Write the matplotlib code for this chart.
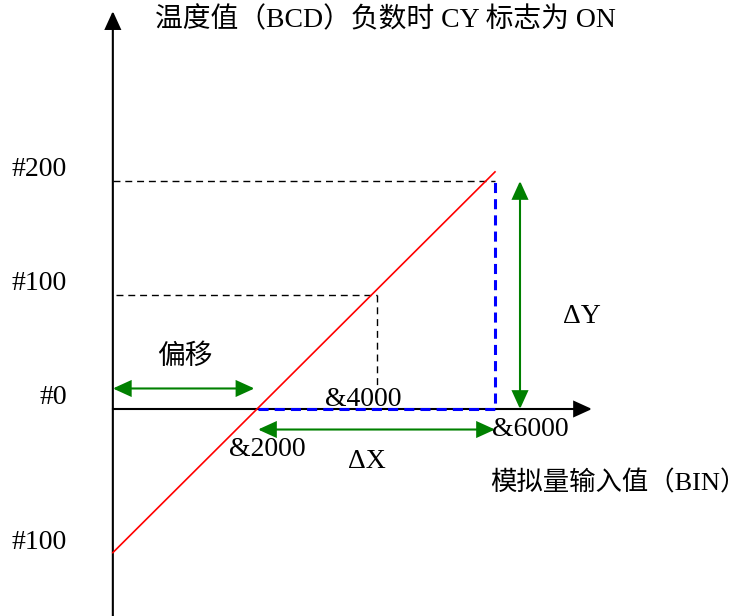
import matplotlib
matplotlib.use('Agg')
import matplotlib.pyplot as plt
from matplotlib.patches import FancyArrowPatch

plt.rcParams['font.family'] = ['Liberation Serif', 'Noto Sans CJK SC']
plt.rcParams['font.size'] = 20

# chart values
x_ticks = [2000, 4000, 6000]
x_labels = ['&2000', '&4000', '&6000']
y_ticks = [0, 100, 200]
y_labels = ['#0', '#100', '#200']
line_x = [-450, 6000]
line_y = [-126, 208]
neg_label = '#100'
title = '温度值（BCD）负数时 CY 标志为 ON'
xlabel = '模拟量输入值（BIN）'
offset_label = '偏移'

# schematic layout (pixels per data unit, pixel of the origin)
W, H, DPI = 749, 616, 100
PX0, PY0 = 139.5, 409
SX, SY = 0.05925, 1.14
X_LEFT = line_x[0]
Y_TOP = 349
X_RIGHT = 7637
GAP = 18

fig = plt.figure(figsize=(W / DPI, H / DPI), dpi=DPI)
ax = fig.add_axes([0, 0, 1, 1])
ax.set_xlim(-PX0 / SX, (W - PX0) / SX)
ax.set_ylim(-(H - PY0) / SY, PY0 / SY)
ax.axis('off')
ybot = ax.get_ylim()[0]


def arrow(p0, p1, color, style, lw, hl, hw):
    a = FancyArrowPatch(p0, p1, arrowstyle=f'{style},head_length={hl},head_width={hw}',
                        color=color, lw=lw, shrinkA=0, shrinkB=0, mutation_scale=1,
                        joinstyle='miter')
    ax.add_patch(a)


def label(s, xy, off, ha='center', va='center', size=20):
    ax.annotate(s, xy=xy, xytext=off, textcoords='offset pixels', ha=ha, va=va,
                fontsize=size)


# axes with arrow heads
arrow((X_LEFT, ybot), (X_LEFT, Y_TOP), 'black', '-|>', 1.5, 11, 5)
arrow((X_LEFT, 0), (X_RIGHT, 0), 'black', '-|>', 1.5, 11, 5)

# black helper dashes
ax.plot([X_LEFT, x_ticks[2]], [y_ticks[2], y_ticks[2]], color='black', lw=1, dashes=(5, 3.5))
ax.plot([X_LEFT + 60, x_ticks[1]], [y_ticks[1], y_ticks[1]], color='black', lw=1, dashes=(5, 3.5))
ax.plot([x_ticks[1], x_ticks[1]], [y_ticks[1], 15], color='black', lw=1, dashes=(5, 3.5))

# blue dashed frame
ax.plot([x_ticks[0], x_ticks[2], x_ticks[2]], [0, 0, y_ticks[2]], color='blue', lw=2.2,
        dashes=(3.3, 2))

# red transfer line
ax.plot(line_x, line_y, color='red', lw=1.2)

# green dimension arrows
arrow((X_LEFT, GAP), (x_ticks[0] - 60, GAP), 'green', '<|-|>', 1.5, 11, 5)
arrow((x_ticks[0], -GAP), (x_ticks[2], -GAP), 'green', '<|-|>', 1.5, 11, 5)
arrow((6422, 0), (6422, y_ticks[2]), 'green', '<|-|>', 1.5, 11, 5)

# tick labels
for y, s in zip(y_ticks, y_labels):
    label(s, (X_LEFT, y), (-46, 11), ha='right')
label(neg_label, (X_LEFT, line_y[0]), (-46, 10), ha='right')

x_offs = [(9, -40), (-13, 9), (-3, -21)]
x_has = ['center', 'center', 'left']
for x, s, o, h in zip(x_ticks, x_labels, x_offs, x_has):
    label(s, (x, 0), o, ha=h)

label(title, (X_LEFT, Y_TOP), (42, -9), ha='left')
label(xlabel, (x_ticks[2], 0), (-5, -74), ha='left', size=19)
label(offset_label, (X_LEFT, 0), (44, 52), ha='left')
label('ΔX', (x_ticks[1], 0), (-10, -53))
label('ΔY', (x_ticks[2], y_ticks[1]), (87, -22))

fig.savefig('out.png', dpi=DPI)
